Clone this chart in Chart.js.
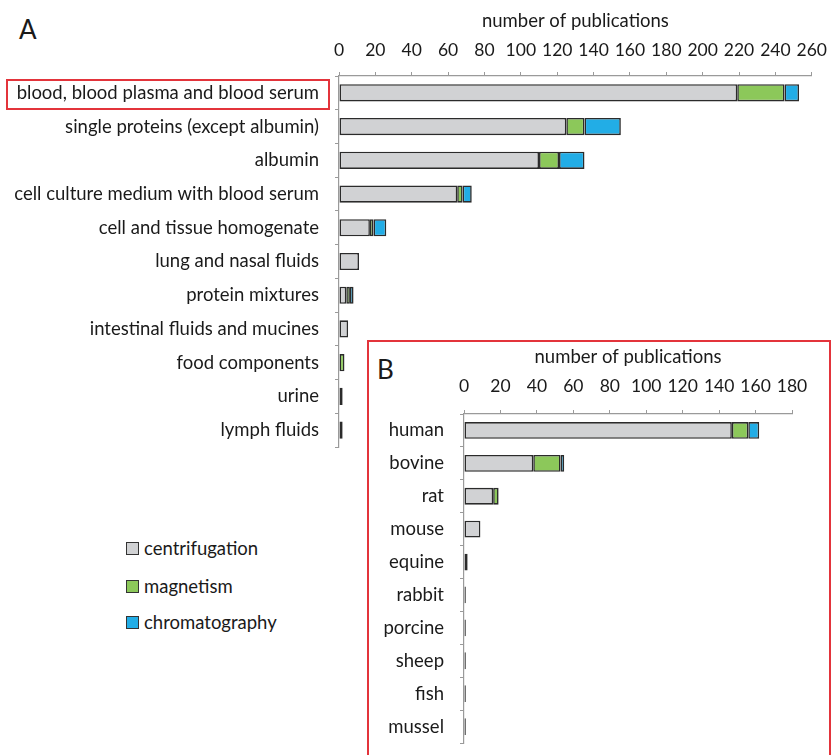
<!DOCTYPE html>
<html>
<head>
<meta charset="utf-8">
<script src="https://cdn.jsdelivr.net/npm/chart.js@4.4.1/dist/chart.umd.min.js"></script>
<style>
  body { margin: 0; background: #fff; font-family: Lato, sans-serif; color: #1a1a1a; }
  #wrap { position: relative; width: 838px; height: 755px; overflow: hidden; }
  .abs { position: absolute; }
  .panel { font-size: 26px; line-height: 1; }
  .redbox { border: 2px solid #e3343b; box-sizing: border-box; }
  .leg { font-size: 18.5px; display: flex; align-items: center; line-height: 1; }
  .leg span.sw { width: 11px; height: 11px; border: 1px solid #333; margin-right: 5px; display: inline-block; }
</style>
</head>
<body>
<div id="wrap">
  <div class="abs redbox" style="left:6px;top:79px;width:324px;height:31px;"></div>
  <div class="abs redbox" style="left:367px;top:340px;width:464px;height:430px;"></div>
  <div class="abs panel" style="left:19px;top:16px;">A</div>
  <div class="abs panel" style="left:377px;top:356px;">B</div>
  <canvas id="chartA" class="abs" style="left:0;top:0;"></canvas>
  <canvas id="chartB" class="abs" style="left:370px;top:342px;"></canvas>
  <div class="abs leg" style="left:126px;top:539px;"><span class="sw" style="background:#d1d2d4"></span>centrifugation</div>
  <div class="abs leg" style="left:126px;top:577px;"><span class="sw" style="background:#8cc85a"></span>magnetism</div>
  <div class="abs leg" style="left:126px;top:613px;"><span class="sw" style="background:#22ade6"></span>chromatography</div>
</div>
<script>
const catsA = ['blood, blood plasma and blood serum', 'single proteins (except albumin)', 'albumin',
  'cell culture medium with blood serum', 'cell and tissue homogenate', 'lung and nasal fluids',
  'protein mixtures', 'intestinal fluids and mucines', 'food components', 'urine', 'lymph fluids'];
const centA = [219, 125, 110, 65, 17, 11, 4, 5, 0, 0, 0];
const magA = [26, 10, 11, 3, 2, 0, 2, 0, 3, 2, 2];
const chromA = [8, 20, 14, 5, 7, 0, 2, 0, 0, 0, 0];
const ticksA = [0, 20, 40, 60, 80, 100, 120, 140, 160, 180, 200, 220, 240, 260];

const catsB = ['human', 'bovine', 'rat', 'mouse', 'equine', 'rabbit', 'porcine', 'sheep', 'fish', 'mussel'];
const centB = [147, 38, 16, 9, 2, 1, 1, 1, 1, 1];
const magB = [9, 15, 3, 0, 0, 0, 0, 0, 0, 0];
const chromB = [6, 2, 0, 0, 0, 0, 0, 0, 0, 0];
const ticksB = [0, 20, 40, 60, 80, 100, 120, 140, 160, 180];

const seriesNames = ['centrifugation', 'magnetism', 'chromatography'];
const colors = ['#d1d2d4', '#8cc85a', '#22ade6'];

Chart.defaults.font.family = 'Lato, sans-serif';
Chart.defaults.color = '#1a1a1a';

function sets(a, b, c) {
  return [a, b, c].map((d, i) => ({
    label: seriesNames[i], data: d, backgroundColor: colors[i],
    borderColor: '#2b2b2b', borderWidth: 1.6, borderSkipped: false,
    barPercentage: 0.51, categoryPercentage: 1
  }));
}

function opts(max, yWidth, xHeight, pad, tickPad, titlePad) {
  return {
    indexAxis: 'y', responsive: false, animation: false,
    layout: { padding: pad },
    plugins: { legend: { display: false }, tooltip: { enabled: false } },
    scales: {
      x: {
        position: 'top', stacked: true, min: 0, max: max,
        ticks: { stepSize: 20, font: { size: 17.5 }, padding: tickPad, maxRotation: 0, autoSkip: false },
        grid: { drawOnChartArea: false, tickLength: 4, color: '#9a9a9a' },
        border: { color: '#9a9a9a', width: 1.2 },
        title: { display: true, text: 'number of publications', font: { size: 18.5 }, padding: { top: titlePad, bottom: 0 } },
        afterFit: s => { s.height = xHeight; }
      },
      y: {
        stacked: true,
        ticks: { font: { size: 18.5 }, padding: 16, autoSkip: false },
        grid: { drawOnChartArea: false, tickLength: 4, color: '#9a9a9a', offset: true },
        border: { color: '#9a9a9a', width: 1.2 },
        afterFit: s => { s.width = yWidth; s.paddingTop = 0; s.paddingBottom = 0; }
      }
    }
  };
}

const cA = document.getElementById('chartA');
cA.width = 838; cA.height = 460;
new Chart(cA, {
  type: 'bar',
  data: { labels: catsA, datasets: sets(centA, magA, chromA) },
  options: opts(ticksA[ticksA.length - 1], 339, 76, { left: 0, right: 19, top: 0, bottom: 13 }, 11, 10)
});

const cB = document.getElementById('chartB');
cB.width = 458; cB.height = 413;
new Chart(cB, {
  type: 'bar',
  data: { labels: catsB, datasets: sets(centB, magB, chromB) },
  options: opts(ticksB[ticksB.length - 1], 94, 72, { left: 0, right: 36, top: 0, bottom: 12 }, 13, 4)
});
</script>
</body>
</html>
